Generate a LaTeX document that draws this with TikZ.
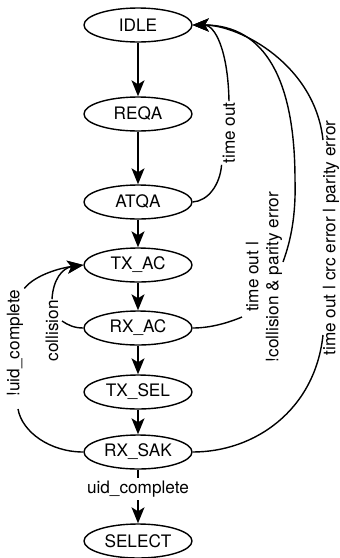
\documentclass[tikz,border=0pt]{standalone}
\usepackage{fontspec}
\setmainfont{TeX Gyre Heros}
\usetikzlibrary{arrows.meta,shapes.geometric}
\begin{document}
\begin{tikzpicture}[x=1pt,y=-1pt,
  state/.style={draw,ellipse,line width=1.4pt,minimum width=108pt,minimum height=34pt,inner sep=1pt,font=\fontsize{17.2}{19}\selectfont},
  elabel/.style={inner sep=1pt,font=\fontsize{17.2}{20}\selectfont},
  edge/.style={line width=1.4pt},
  arr/.style={line width=1.4pt,-{Stealth[length=16pt,width=13pt,inset=4pt]}}]
\useasboundingbox (0,0) rectangle (340,558);
\node[state] (IDLE) at (138,25) {IDLE};
\node[state] (REQA) at (138,114) {REQA};
\node[state] (ATQA) at (138,202) {ATQA};
\node[state] (TXAC) at (138,265) {TX\_AC};
\node[state] (RXAC) at (138,328) {RX\_AC};
\node[state] (TXSEL) at (138,392) {TX\_SEL};
\node[state] (RXSAK) at (138,452) {RX\_SAK};
\node[state] (SELECT) at (138,541) {SELECT};
% labels
\node[elabel,rotate=90] (lto) at (229,133) {time out};
\node[elabel,rotate=90,align=center] (lrxac) at (264,277) {time out l\\!collision \& parity error};
\node[elabel,rotate=90] (lrxsak) at (331,238) {time out l crc error l parity error};
\node[elabel,rotate=90] (lcol) at (52,331) {collision};
\node[elabel,rotate=90] (luidn) at (15,343) {!uid\_complete};
\node[elabel,inner sep=3pt,fill=white] (luid) at (138,489) {uid\_complete};
% main chain
\draw[arr] (IDLE) -- (REQA);
\draw[arr] (REQA) -- (ATQA);
\draw[arr] (ATQA) -- (TXAC);
\draw[arr] (TXAC) -- (RXAC);
\draw[arr] (RXAC) -- (TXSEL);
\draw[arr] (TXSEL) -- (RXSAK);
\draw[edge] (RXSAK) -- (luid);
\draw[arr] (luid) -- (SELECT);
% ATQA -> IDLE
\draw[edge] (ATQA.east) .. controls (208,201) and (220,185) .. (lto.north west);
\draw[arr] (lto.east) .. controls (228,50) and (215,25) .. (IDLE.east);
% RX_AC -> IDLE
\coordinate (c2) at (242,317);
\coordinate (c3) at (283,262);
\draw[edge] (RXAC.east) .. controls (212,328) and (230,322) .. (c2);
\draw[arr] (c3) .. controls (291,240) and (296,215) .. (295,180) .. controls (295,80) and (265,25) .. (IDLE.east);
% RX_SAK -> IDLE
\coordinate (c4) at (323,335);
\coordinate (c5) at (323,140);
\draw[edge] (RXSAK.east) .. controls (255,452) and (315,410) .. (c4);
\draw[arr] (c5) .. controls (315,65) and (240,25) .. (IDLE.east);
% RX_AC -> TX_AC (collision)
\coordinate (c6) at (62,321);
\draw[edge] (RXAC.west) .. controls (74,328) and (68,325) .. (c6);
\draw[arr] (lcol.east) .. controls (53,280) and (62,268) .. (TXAC.west);
% RX_SAK -> TX_AC (!uid_complete)
\coordinate (c7) at (18,409);
\draw[edge] (RXSAK.west) .. controls (50,452) and (22,432) .. (c7);
\draw[arr] (luidn.south east) .. controls (35,275) and (60,268) .. (TXAC.west);
\end{tikzpicture}
\end{document}
